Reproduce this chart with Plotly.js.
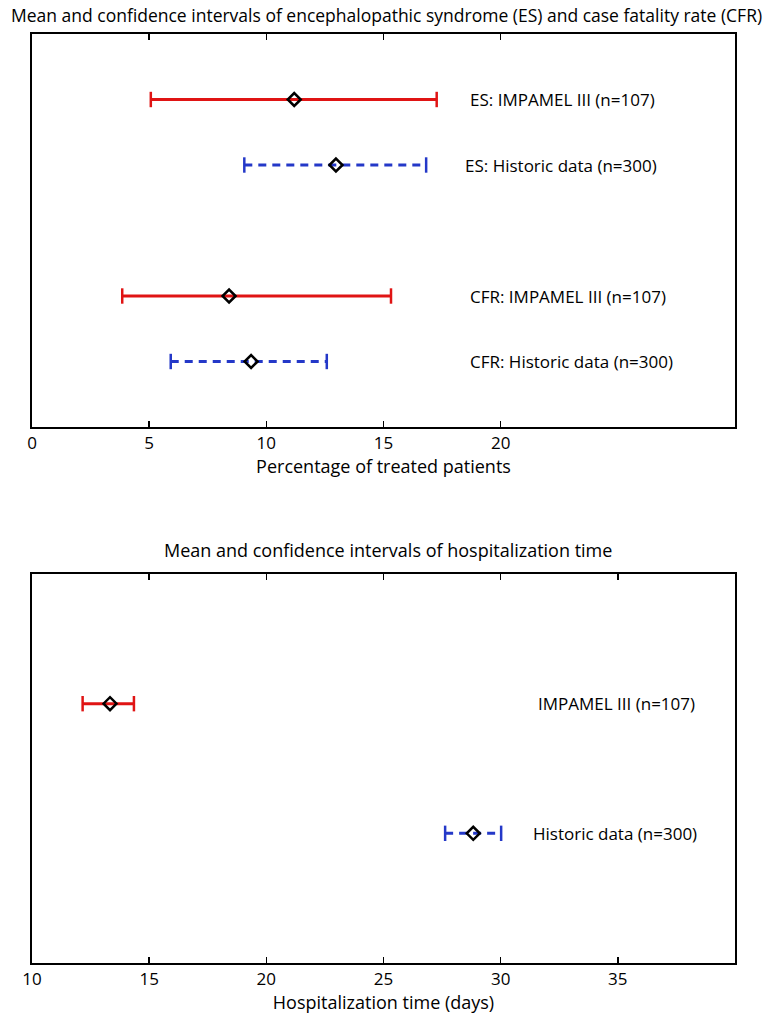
<!DOCTYPE html>
<html>
<head>
<meta charset="utf-8">
<script src="https://cdn.plot.ly/plotly-3.0.1.min.js"></script>
<style>
  body { margin: 0; background: #fff; }
  #graph { width: 773px; height: 1016px; }
</style>
</head>
<body>
<div id="graph"></div>
<script>
// top panel: percentage of treated patients
const rateLabels = ['ES: IMPAMEL III (n=107)', 'ES: Historic data (n=300)', 'CFR: IMPAMEL III (n=107)', 'CFR: Historic data (n=300)']
const rateRows = [5, 4, 2, 1]
const rateLow = [5.07, 9.06, 3.85, 5.92]
const rateMean = [11.19, 12.97, 8.41, 9.35]
const rateHigh = [17.27, 16.82, 15.32, 12.58]
const rateLabelX = [18.6, 18.4, 18.6, 18.6]
const rateKind = ['impamel', 'historic', 'impamel', 'historic']
const rateTicks = [0, 5, 10, 15, 20]

// bottom panel: hospitalization time
const hospLabels = ['IMPAMEL III (n=107)', 'Historic data (n=300)']
const hospRows = [2, 1]
const hospLow = [12.16, 27.63]
const hospMean = [13.33, 28.83]
const hospHigh = [14.35, 30.02]
const hospLabelX = [31.5, 31.3]
const hospKind = ['impamel', 'historic']
const hospTicks = [10, 15, 20, 25, 30, 35]

const styles = {
  impamel: { color: '#e01414', dash: 'solid' },
  historic: { color: '#2438c8', dash: '8px,6px' }
}

const font = 'Liberation Sans Narrow, Open Sans, sans-serif'
const data = []
const annotations = []

function addRows(labels, rows, low, mean, high, labelX, kind, xa, ya) {
  rows.forEach((row, i) => {
    const st = styles[kind[i]]
    data.push({
      x: [low[i], high[i]], y: [row, row],
      xaxis: xa, yaxis: ya,
      mode: 'lines+markers',
      line: { color: st.color, width: 3, dash: st.dash },
      marker: { symbol: 'line-ns', size: 11, line: { color: st.color, width: 2.5 } },
      hoverinfo: 'skip'
    })
    data.push({
      x: [mean[i]], y: [row],
      xaxis: xa, yaxis: ya,
      mode: 'markers',
      marker: { symbol: 'diamond-open', size: 10, color: '#000', line: { color: '#000', width: 2.5 } }
    })
    annotations.push({
      x: labelX[i], y: row, xref: xa, yref: ya,
      text: labels[i], showarrow: false, xanchor: 'left', yanchor: 'middle',
      font: { family: font, size: 17, color: '#000' }
    })
  })
}

addRows(rateLabels, rateRows, rateLow, rateMean, rateHigh, rateLabelX, rateKind, 'x', 'y')
addRows(hospLabels, hospRows, hospLow, hospMean, hospHigh, hospLabelX, hospKind, 'x2', 'y2')

annotations.push({
  x: 386 / 773, y: 1 - 15 / 1016, xref: 'paper', yref: 'paper',
  xanchor: 'center', yanchor: 'middle',
  text: 'Mean and confidence intervals of encephalopathic syndrome (ES) and case fatality rate (CFR)',
  showarrow: false, font: { family: font, size: 17.5, color: '#000' }
})
annotations.push({
  x: 388 / 773, y: 1 - 550 / 1016, xref: 'paper', yref: 'paper',
  xanchor: 'center', yanchor: 'middle',
  text: 'Mean and confidence intervals of hospitalization time',
  showarrow: false, font: { family: font, size: 18, color: '#000' }
})

const axisBase = {
  showline: true, mirror: 'ticks', linecolor: '#000', linewidth: 2,
  ticks: 'inside', ticklen: 6, tickwidth: 1.5, tickcolor: '#000',
  showgrid: false, zeroline: false,
  tickfont: { family: font, size: 17, color: '#000' }
}
const yBase = {
  showline: true, mirror: true, linecolor: '#000', linewidth: 2,
  showticklabels: false, ticks: '', showgrid: false, zeroline: false
}

const layout = {
  width: 773, height: 1016,
  margin: { t: 0, b: 0, l: 0, r: 0 },
  paper_bgcolor: '#fff', plot_bgcolor: '#fff',
  showlegend: false,
  xaxis: {
    ...axisBase, domain: [32 / 773, 735 / 773], range: [0, 30],
    tickvals: rateTicks, anchor: 'y',
    title: { text: 'Percentage of treated patients', font: { family: font, size: 18, color: '#000' }, standoff: 0 }
  },
  yaxis: { ...yBase, domain: [1 - 427 / 1016, 1 - 34 / 1016], range: [0, 6], anchor: 'x' },
  xaxis2: {
    ...axisBase, domain: [32 / 773, 735 / 773], range: [10, 40],
    tickvals: hospTicks, anchor: 'y2',
    title: { text: 'Hospitalization time (days)', font: { family: font, size: 18, color: '#000' }, standoff: 2 }
  },
  yaxis2: { ...yBase, domain: [1 - 963 / 1016, 1 - 574 / 1016], range: [0, 3], anchor: 'x2' },
  annotations: annotations
}

Plotly.newPlot('graph', data, layout, { displayModeBar: false, staticPlot: true })
</script>
</body>
</html>
